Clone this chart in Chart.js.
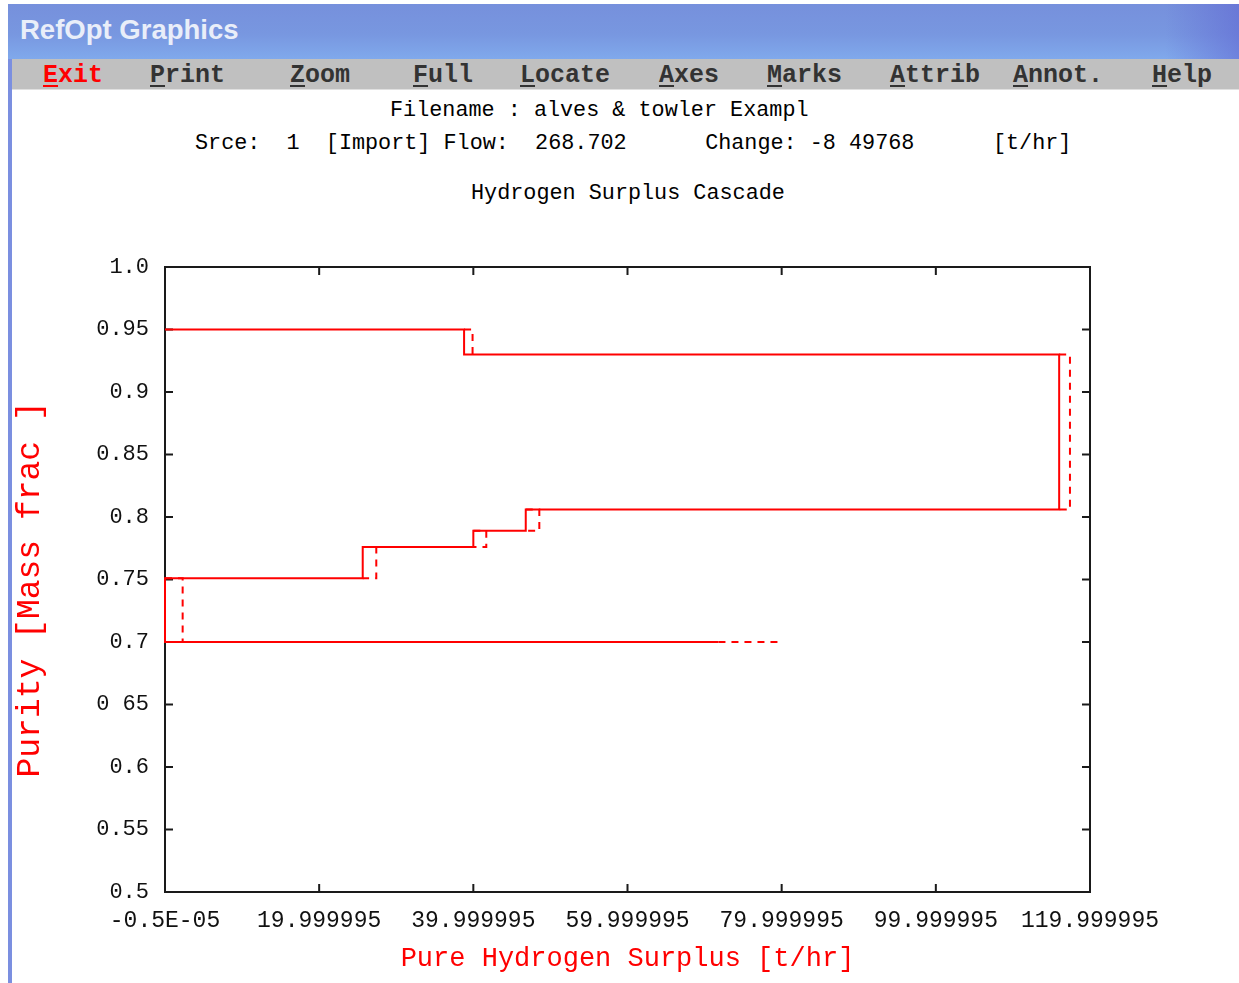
<!DOCTYPE html>
<html><head><meta charset="utf-8">
<script src="https://cdn.jsdelivr.net/npm/chart.js@4.4.1/dist/chart.umd.min.js"></script>
<style>
html,body{margin:0;padding:0;background:#fff;}
#win{position:relative;width:1239px;height:983px;overflow:hidden;background:#fff;}
#titlebar{position:absolute;left:8px;top:4px;width:1231px;height:55px;
  background:linear-gradient(to right,rgba(0,0,0,0) 94%,rgba(95,100,210,0.55) 100%),
             linear-gradient(to bottom,#7690dc 0%,#7897e0 55%,#80a9ec 100%);}
#titlebar span{position:absolute;left:12px;top:10px;font:bold 27.5px 'Liberation Sans',sans-serif;color:#e9eef9;}
#menubar{position:absolute;left:12px;top:59px;width:1227px;height:30px;background:#c0c0c0;border-bottom:1px solid #e0e0e0;}
#lborder{position:absolute;left:8px;top:59px;width:4px;height:924px;background:#7b8fe0;}
.mi{position:absolute;top:61px;line-height:30px;font:bold 25px 'Liberation Mono',monospace;color:#333;white-space:pre;}
.mi u{text-decoration:underline;text-underline-offset:3px;}
.hdr{position:absolute;font:21.8px 'Liberation Mono',monospace;line-height:26px;color:#000;white-space:pre;}
#c{position:absolute;left:0;top:0;z-index:2;}
</style></head>
<body><div id="win">
<div id="titlebar"><span>RefOpt Graphics</span></div>
<div id="menubar"></div>
<div id="lborder"></div>
<div class="mi" style="left:43px;color:#f00"><u>E</u>xit</div>
<div class="mi" style="left:150px"><u>P</u>rint</div>
<div class="mi" style="left:290px"><u>Z</u>oom</div>
<div class="mi" style="left:413px"><u>F</u>ull</div>
<div class="mi" style="left:520px"><u>L</u>ocate</div>
<div class="mi" style="left:659px"><u>A</u>xes</div>
<div class="mi" style="left:767px"><u>M</u>arks</div>
<div class="mi" style="left:890px"><u>A</u>ttrib</div>
<div class="mi" style="left:1013px"><u>A</u>nnot.</div>
<div class="mi" style="left:1152px"><u>H</u>elp</div>
<div class="hdr" style="left:390px;top:98px">Filename : alves &amp; towler Exampl</div>
<div class="hdr" style="left:195px;top:131px">Srce:  1  [Import] Flow:  268.702      Change: -8 49768      [t/hr]</div>
<div class="hdr" style="left:471px;top:181px">Hydrogen Surplus Cascade</div>
<canvas id="c" width="1239" height="983"></canvas>
</div>
<script>
// ---- data ----
// solid cascade (current)
const solidX  = [0, 38.8, 38.8, 116.0, 116.0, 46.8, 46.8, 40.0, 40.0, 25.65, 25.65, 0, 0, 71.8];
const solidY  = [0.95, 0.95, 0.93, 0.93, 0.806, 0.806, 0.789, 0.789, 0.776, 0.776, 0.751, 0.751, 0.70, 0.70];
// dashed cascade (changed) - only the parts not hidden under the solid one; null = gap
const dashedX = [38.8, 39.9, 39.9, null, 116.0, 117.4, 117.4, 116.0, null, 46.8, 48.56, 48.56, 46.8, null,
                 40.0, 41.68, 41.68, 40.0, null, 25.65, 27.41, 27.41, 25.65, null, 0, 2.29, 2.29, 0, null, 71.8, 80.2];
const dashedY = [0.95, 0.95, 0.93, null, 0.93, 0.93, 0.806, 0.806, null, 0.806, 0.806, 0.789, 0.789, null,
                 0.789, 0.789, 0.776, 0.776, null, 0.776, 0.776, 0.751, 0.751, null, 0.751, 0.751, 0.70, 0.70, null, 0.70, 0.70];
const xTickValues = [0, 20, 40, 60, 80, 100, 120];
const xTickLabels = ['-0.5E-05','19.999995','39.999995','59.999995','79.999995','99.999995','119.999995'];
const yTickValues = [0.5, 0.55, 0.6, 0.65, 0.7, 0.75, 0.8, 0.85, 0.9, 0.95, 1.0];
const yTickLabels = ['0.5','0.55','0.6','0 65','0.7','0.75','0.8','0.85','0.9','0.95','1.0'];
const xTitle = 'Pure Hydrogen Surplus [t/hr]';
const yTitle = 'Purity [Mass frac ] ';

const framePlugin = {
  id: 'frame',
  beforeDatasetsDraw(chart) {
    const {ctx, chartArea: a, scales: {x, y}} = chart;
    ctx.save();
    ctx.strokeStyle = '#1a1a1a';
    ctx.lineWidth = 2;
    ctx.strokeRect(a.left, a.top, a.right - a.left, a.bottom - a.top);
    const L = 8;
    ctx.beginPath();
    xTickValues.forEach(v => {
      const px = x.getPixelForValue(v);
      ctx.moveTo(px, a.bottom); ctx.lineTo(px, a.bottom - L);
      ctx.moveTo(px, a.top); ctx.lineTo(px, a.top + L);
    });
    yTickValues.forEach(v => {
      const py = y.getPixelForValue(v);
      ctx.moveTo(a.left, py); ctx.lineTo(a.left + L, py);
      ctx.moveTo(a.right, py); ctx.lineTo(a.right - L, py);
    });
    ctx.stroke();
    ctx.restore();
  }
};

new Chart(document.getElementById('c'), {
  type: 'scatter',
  data: {
    datasets: [
      { label: 'solid', data: solidX.map((v, i) => ({x: v, y: solidY[i]})),
        showLine: true, borderColor: '#ff0000', borderWidth: 2, pointRadius: 0,
        tension: 0, clip: false, order: 0 },
      { label: 'dashed', data: dashedX.map((v, i) => ({x: v, y: dashedY[i]})),
        showLine: true, spanGaps: false, borderColor: '#ff0000', borderWidth: 2, borderDash: [7, 6],
        pointRadius: 0, tension: 0, clip: false, order: 1 }
    ]
  },
  options: {
    responsive: false, animation: false, devicePixelRatio: 1,
    layout: { padding: { left: 12, top: 267, right: 149, bottom: 5 } },
    plugins: { legend: { display: false }, tooltip: { enabled: false } },
    scales: {
      x: {
        type: 'linear', min: 0, max: 120,
        afterBuildTicks: s => { s.ticks = xTickValues.map(v => ({value: v})); },
        afterFit: s => { s.height = 86; },
        grid: { display: false, drawTicks: false },
        border: { display: false },
        ticks: { padding: 15, color: '#111', maxRotation: 0, autoSkip: false,
                 font: { family: "'Liberation Mono', monospace", size: 23 },
                 callback: (v, i) => xTickLabels[i] },
        title: { display: true, text: xTitle, color: '#ff0000',
                 font: { family: "'Liberation Mono', monospace", size: 27, lineHeight: 1 },
                 padding: { top: 0, bottom: 6 } }
      },
      y: {
        type: 'linear', min: 0.5, max: 1.0,
        afterBuildTicks: s => { s.ticks = yTickValues.map(v => ({value: v})); },
        afterFit: s => { s.width = 153; },
        grid: { display: false, drawTicks: false },
        border: { display: false },
        ticks: { padding: 16, color: '#111', autoSkip: false,
                 font: { family: "'Liberation Mono', monospace", size: 22 },
                 callback: (v, i) => yTickLabels[i] },
        title: { display: true, text: yTitle, color: '#ff0000',
                 font: { family: "'Liberation Mono', monospace", size: 33, lineHeight: 1 },
                 padding: { top: 2, bottom: 0 } }
      }
    }
  },
  plugins: [framePlugin]
});
</script>
</body></html>
